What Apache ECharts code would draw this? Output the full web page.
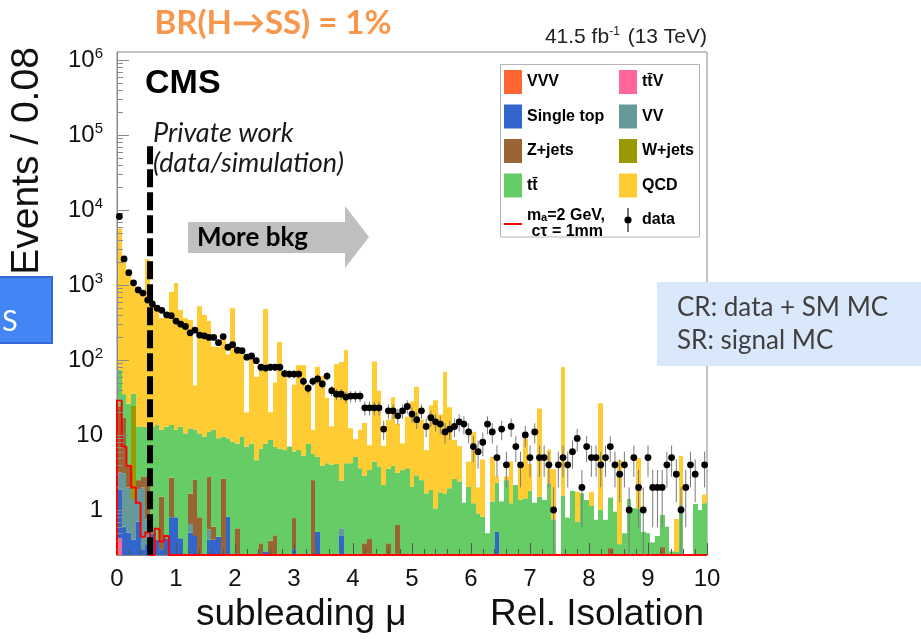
<!DOCTYPE html>
<html>
<head>
<meta charset="utf-8">
<script src="https://cdn.jsdelivr.net/npm/echarts@6/dist/echarts.min.js"></script>
<style>
  html, body { margin: 0; padding: 0; background: #fff; }
  #chart { width: 921px; height: 639px; }
</style>
</head>
<body>
<div id="chart"></div>
<script>
// Histogram binning of the subleading-muon relative isolation (0 .. 10, 0.08 per bin)
const BIN_WIDTH = 0.08;
const Y_MIN = 0.251;
const Y_MAX = 1.28e6;

const xTickLabels = ['0', '1', '2', '3', '4', '5', '6', '7', '8', '9', '10'];
const yTickExponents = [0, 1, 2, 3, 4, 5, 6];

// Simulated backgrounds, events per bin (stacked bottom to top in this order)
const ttV = [
  0.42,0,0,0,0, 0,0,0,0,0, 0,0,0,0,0, 0,0,0,0,0, 0,0,0,0,0,
  0,0,0,0,0, 0,0,0,0,0, 0,0,0,0,0, 0,0,0,0,0, 0,0,0,0,0,
  0,0,0,0,0, 0,0,0,0,0, 0,0,0,0,0, 0,0,0,0,0, 0,0,0,0,0,
  0,0,0,0,0, 0,0,0,0,0, 0,0,0,0,0, 0,0,0,0,0, 0,0,0,0,0,
  0,0,0,0,0, 0,0,0,0,0, 0,0,0,0,0, 0,0,0,0,0, 0,0,0,0,0
];
const vvv = [
  0,0,0,0,0, 0,0,0,0,0, 0,0,0,0,0, 0,0,0,0,0, 0,0,0,0,0,
  0,0,0,0,0, 0,0,0,0,0, 0,0,0,0,0, 0,0,0,0,0, 0,0,0,0,0,
  0,0,0,0,0, 0,0,0,0,0, 0,0,0,0,0, 0,0,0,0,0, 0,0,0,0,0,
  0,0,0,0,0, 0,0,0,0,0, 0,0,0,0,0, 0,0,0,0,0, 0,0,0,0,0,
  0,0,0,0,0, 0,0,0,0,0, 0,0,0,0,0, 0,0,0,0,0, 0,0,0,0,0
];
const singleTop = [
  1.45,0.6,0.5,0.4,0.7, 0.3,0.35,0.49,0.4,0.3, 0.42,0.8,0.8,0.42,0, 0.5,0.45,0,0,0.4, 0.4,0.44,0,0.81,0,
  0,0,0,0,0, 0,0.28,0,0,0, 0,0,0.3,0,0, 0,0,0.51,0,0, 0,0,0.46,0,0,
  0,0,0,0,0, 0,0,0,0,0, 0,0,0,0,0, 0,0,0,0,0, 0,0,0,0,0,
  0,0,0,0,0, 0.51,0,0,0,0, 0,0,0,0,0, 0,0,0,0,0, 0,0,0,0,0,
  0,0,0,0,0, 0,0,0,0,0, 0,0,0,0,0, 0,0,0,0,0, 0,0,0,0,0
];
const vv = [
  1.3,2.5,1.5,1.0,1.2, 1.7,0.4,0,0,0, 0,0,0,0,0, 0.15,0,0,0,0.15, 0,0,0,0,0,
  0,0,0,0,0, 0,0,0,0,0, 0,0,0,0,0, 0,0,0,0,0, 0,0,0.11,0,0,
  0,0,0,0,0, 0,0,0,0,0, 0,0,0,0,0, 0,0,0,0,0, 0,0,0,0,0,
  0,0,0,0,0, 0,0,0,0,0, 0,0,0,0,0, 0,0,0,0,0, 0,0,0,0,0,
  0,0,0,0,0, 0,0,0,0,0, 0,0,0,0,0, 0,0,0,0,0, 0,0,0,0,0
];
const zJets = [
  21,14,2,0,0.6, 0.8,2.0,0,0,1.2, 0,1.9,0,0,0, 1.0,2.1,0.8,0,2.25, 0.2,0,2.6,0,0,
  0.57,0,0,0,0, 0.36,0,0.39,0.46,0, 0,0,0.48,0,0, 0,2.5,0,0,0, 0,0,0,0,0,
  0,0,0.36,0.41,0, 0,0,0.36,0,0.63, 0,0,0,0,0, 0,0,0,0,0, 0,0,0,0,0,
  0,0,0,0,0, 0,0,0,0,0, 0,0,0,0,0, 0,0,0,0,0, 0,0,0,0,0,
  0,0,0,0,0.31, 0,0,0,0,0, 0,0,0,0,0, 0.32,0,0,0,0, 0,0,0,0,0
];
const wJets = [
  0,0,0,23,0, 0,0,0,0,0, 0,0,0,0,0, 0,0,0,0,0, 0,0,0,0,0,
  0,0,0,0,0, 0,0,0,0,0, 0,0,0,0,0, 0,0,0,0,0, 0,0,0,0,0,
  0,0,0,0,0, 0,0,0,0,0, 0,0,0,0,0, 0,0,0,0,0, 0,0,0,0,0,
  0,0,0,0,0, 0,0,0,0,0, 0,0,0,0,0, 0,0,0,0,0, 0,0,0,0,0,
  0,0,0,0,0, 0,0,0,0,0, 0,0,0,0,0, 0,0,0,0,0, 0,0,0,0,0
];
const ttbar = [
  50,18,22,11,10.5, 10,10,12.4,13.2,10.2, 12.5,10.9,10.9,12.5,10.5, 10.6,9.2,9.7,9.5,8.2, 11.1,8.6,6.9,8.2,8.1,
  7.1,9.5,7,7.7,4.6, 6.2,7.4,8.2,6.5,6.6, 6.3,7,5.2,6.3,5.3, 7.7,3.1,4.6,3.9,4.2, 4,4.1,1.9,4.2,4.2,
  5.1,3.6,2.5,3,4.4, 3.8,2.15,3.2,3.9,2.5, 3.4,3.6,2.05,2.9,2.5, 1.67,1.85,1.05,1.72,1.63, 1.95,2.6,2.4,1.25,2.05,
  1.23,0.9,0.81,0.49,1.3, 1.8,1.3,2.5,1.23,2.15, 1.36,1.43,1.8,1.25,1.5, 1.36,2.27,0.75,0,1.55, 0.79,1.8,0.7,1.67,1.36,
  1.13,0.74,1.0,0.74,1.15, 0.95,0.35,0.49,1.4,1.06, 1.04,0.51,0.49,0.37,0.45, 0.54,0.6,0.28,0.28,1.17, 0,0,1.2,1.0,1.23
];
const qcd = [
  5600,1960,1470,965,890, 690,2190,510,450,350, 410,800,1050,450,350, 330,34,510,390,320, 140,140,190,110,480,
  125,110,13,95,55, 73,470,11.5,43,168, 62,0,41,79,80, 32,6.1,76,57,27, 9,84,92,131,8.1,
  3.7,8.1,11.6,3.9,91, 35,5,12.4,28,11, 4.3,14,26,41,13.5, 4.6,23,28,17,68, 21.5,6,4.7,0,2.35,
  9.8,1.1,3.9,0,3.8, 0.5,0,0.3,3.2,0, 2.4,7.4,2.3,0,21, 0,4.1,2.75,0,79, 0,0,1.05,0,0,
  0.6,0,25.5,0,0, 0,4.25,0,0,0, 3.86,0,0,0,0, 0,0,0,0.48,4.1, 0,0,0,0,0.37
];

// Signal hypothesis (m_a = 2 GeV, c tau = 1 mm), drawn as an outline
const signal = [
  29,7,3.9,2,1.25, 0.44,0.5,0,0.56,0.38, 0.45,0,0,0,0, 0,0,0,0,0, 0,0,0,0,0,
  0,0,0,0,0, 0,0,0,0,0, 0,0,0,0,0, 0,0,0,0,0, 0,0,0,0,0,
  0,0,0,0,0, 0,0,0,0,0, 0,0,0,0,0, 0,0,0,0,0, 0,0,0,0,0,
  0,0,0,0,0, 0,0,0,0,0, 0,0,0,0,0, 0,0,0,0,0, 0,0,0,0,0,
  0,0,0,0,0, 0,0,0,0,0, 0,0,0,0,0, 0,0,0,0,0, 0,0,0,0,0
];

// Observed events per bin
const dataCounts = [
  8200,2230,1460,1070,860, 780,630,560,490,460, 400,390,330,300,280, 230,250,215,210,200, 200,170,205,148,160,
  135,133,109,113,98, 80,78,80,80,80, 66,65,65,65,52, 42,52,56,48,61, 39,35,35,32,33,
  33,33,23,23,23, 23,12,21,21,18, 21,24,19,16,21, 13,17,15,14,11, 12,13,15,14,11,
  7,6,8,14,11, 5,12,4,13,7, 4,10,5,11,5, 5,4,1,4,5, 4,6,9,2,7,
  5,5,4,5,7, 4,3,4,1,5, 2,1,5,2,2, 2,4,5,3,1, 2,4,3,0,4
];

// Isolation cut shown as a dashed vertical line
const CUT_VALUE = 0.56;
const CUT_TOP = 7.1e4;

const SIGNAL_NAME = 'signal';
const TTBAR = 't\u0074\u0304';
const TTV = 't\u0074\u0304V';

const layers = [
  { name: TTV, color: '#FF6699', values: ttV },
  { name: 'VVV', color: '#FF6633', values: vvv },
  { name: 'Single top', color: '#3366CC', values: singleTop },
  { name: 'VV', color: '#669999', values: vv },
  { name: 'Z+jets', color: '#996633', values: zJets },
  { name: 'W+jets', color: '#999900', values: wJets },
  { name: TTBAR, color: '#66CC66', values: ttbar },
  { name: 'QCD', color: '#FFCC33', values: qcd }
];

function renderStackBar(params, api) {
  const lo = Math.max(api.value(2), Y_MIN);
  const hi = Math.min(api.value(3), Y_MAX);
  if (!(hi > lo)) return null;
  const a = api.coord([api.value(0), lo]);
  const b = api.coord([api.value(1), hi]);
  const x0 = Math.round(a[0]);
  const x1 = Math.round(b[0]);
  return {
    type: 'rect',
    shape: { x: x0, y: b[1], width: x1 - x0, height: a[1] - b[1] },
    style: { fill: api.visual('color') }
  };
}

const cumulative = new Array(dataCounts.length).fill(0);
const stackSeries = layers.map(layer => {
  const items = layer.values.map((v, i) => {
    const lo = cumulative[i];
    cumulative[i] += v;
    return [i * BIN_WIDTH, (i + 1) * BIN_WIDTH, lo, cumulative[i]];
  });
  return {
    type: 'custom',
    name: layer.name,
    renderItem: renderStackBar,
    data: items,
    encode: { x: 0, y: 3 },
    itemStyle: { color: layer.color },
    silent: true,
    z: 2
  };
});

function clampY(v) { return Math.min(Math.max(v, Y_MIN), Y_MAX); }

const signalSeries = {
  type: 'custom',
  name: SIGNAL_NAME,
  data: signal.map((v, i) => [i * BIN_WIDTH, (i + 1) * BIN_WIDTH, v, i > 0 ? signal[i - 1] : 0]),
  encode: { x: 0, y: 2 },
  itemStyle: { color: '#FF0000' },
  silent: true,
  z: 11,
  renderItem(params, api) {
    const p0 = api.coord([api.value(0), clampY(api.value(3))]);
    const p1 = api.coord([api.value(0), clampY(api.value(2))]);
    const p2 = api.coord([api.value(1), clampY(api.value(2))]);
    return {
      type: 'polyline',
      shape: { points: [p0, p1, p2] },
      style: { stroke: '#FF0000', lineWidth: 2, fill: null }
    };
  }
};

const cutSeries = {
  type: 'custom',
  name: 'cut',
  data: [[CUT_VALUE, CUT_TOP]],
  encode: { x: 0, y: 1 },
  silent: true,
  z: 11,
  renderItem(params, api) {
    const top = api.coord([api.value(0), api.value(1)]);
    const bottom = api.coord([api.value(0), Y_MIN]);
    return {
      type: 'line',
      shape: { x1: top[0], y1: top[1], x2: bottom[0], y2: bottom[1] },
      style: { stroke: '#000', lineWidth: 6, lineDash: [18, 5] }
    };
  }
};

const dataSeries = {
  type: 'custom',
  name: 'data',
  data: dataCounts.map((n, i) => [(i + 0.5) * BIN_WIDTH, n, n - Math.sqrt(n), n + Math.sqrt(n)]),
  encode: { x: 0, y: 1 },
  itemStyle: { color: '#000' },
  silent: true,
  z: 12,
  renderItem(params, api) {
    const n = api.value(1);
    if (!(n > 0)) return null;
    const c = api.coord([api.value(0), n]);
    const up = api.coord([api.value(0), clampY(api.value(3))]);
    const dn = api.coord([api.value(0), clampY(api.value(2))]);
    return {
      type: 'group',
      children: [
        { type: 'line', shape: { x1: c[0], y1: up[1], x2: c[0], y2: dn[1] },
          style: { stroke: '#7a7a7a', lineWidth: 1 } },
        { type: 'circle', shape: { cx: c[0], cy: c[1], r: 3.4 }, style: { fill: '#000' } }
      ]
    };
  }
};

// Log-axis ticks: decades long, 2..9 sub-decades short
const yTicks = [];
for (let e = -1; e <= 6; e++) {
  for (let m = 1; m <= 9; m++) {
    const v = m * Math.pow(10, e);
    if (v >= Y_MIN && v <= Y_MAX) yTicks.push([0, v, m === 1 ? 1 : 0]);
  }
}
const yTickSeries = {
  type: 'custom',
  name: 'yticks',
  data: yTicks,
  encode: { x: 0, y: 1 },
  silent: true,
  z: 11,
  renderItem(params, api) {
    const p = api.coord([api.value(0), api.value(1)]);
    const len = api.value(2) ? 12 : 6;
    const y = Math.round(p[1]) + 0.5;
    return {
      type: 'line',
      shape: { x1: p[0], y1: y, x2: p[0] + len, y2: y },
      style: { stroke: '#8a8a8a', lineWidth: 1 }
    };
  }
};

const legendText = {
  fontFamily: 'Liberation Sans',
  fontWeight: 'bold',
  fontSize: 16,
  color: '#000',
  lineHeight: 16
};
const DATA_ICON = 'path://M3,0h1v22h-1z M0.2,11a3.3,3.3 0 1,1 6.6,0a3.3,3.3 0 1,1 -6.6,0z';
const LINE_ICON = 'path://M0,0H18V2H0Z';

const legendCommon = {
  orient: 'vertical',
  top: 70,
  itemWidth: 18,
  itemHeight: 24,
  itemGap: 10.5,
  padding: 0,
  selectedMode: false,
  symbolKeepAspect: true,
  textStyle: legendText,
  z: 20,
  formatter: name => (name === SIGNAL_NAME ? 'm\u2090=2 GeV,\n cτ = 1mm' : name)
};

const sans = '"Liberation Sans", Arial, sans-serif';

const option = {
  animation: false,
  backgroundColor: '#fff',
  grid: {
    left: 117, right: 214, top: 52, bottom: 84,
    show: true, borderColor: '#888', borderWidth: 1, backgroundColor: 'transparent',
    containLabel: false, outerBoundsMode: 'none'
  },
  xAxis: {
    type: 'value', min: 0, max: 10, interval: 1, z: 10,
    axisLine: { show: true, lineStyle: { color: '#888', width: 1 } },
    axisTick: { show: true, inside: true, length: 12, lineStyle: { color: '#555' } },
    minorTick: { show: true, splitNumber: 5, length: 6, lineStyle: { color: '#555' } },
    splitLine: { show: false },
    minorSplitLine: { show: false },
    axisLabel: {
      margin: 12, fontSize: 24, fontFamily: 'Liberation Sans', color: '#111',
      formatter: v => xTickLabels[Math.round(v)] || ''
    }
  },
  yAxis: {
    type: 'log', logBase: 10, min: Y_MIN, max: Y_MAX, splitNumber: 7, z: 10,
    axisLine: { show: true, lineStyle: { color: '#888', width: 1 } },
    axisTick: { show: false },
    splitLine: { show: false },
    axisLabel: {
      margin: 14,
      formatter: v => {
        const l = Math.log10(v);
        const e = Math.round(l);
        if (Math.abs(l - e) > 1e-6 || yTickExponents.indexOf(e) < 0) return '';
        if (e === 0) return '{b|1}';
        if (e === 1) return '{b|10}';
        return '{b|10}{s|' + e + '}';
      },
      rich: {
        b: { fontSize: 24, fontFamily: 'Liberation Sans', color: '#111' },
        s: { fontSize: 15, fontFamily: 'Liberation Sans', color: '#111', padding: [0, 0, 13, 0] }
      }
    }
  },
  legend: [
    Object.assign({}, legendCommon, {
      left: 504,
      data: [
        { name: 'VVV', icon: 'rect' },
        { name: 'Single top', icon: 'rect' },
        { name: 'Z+jets', icon: 'rect' },
        { name: TTBAR, icon: 'rect' },
        { name: SIGNAL_NAME, icon: LINE_ICON }
      ]
    }),
    Object.assign({}, legendCommon, {
      left: 619,
      data: [
        { name: TTV, icon: 'rect' },
        { name: 'VV', icon: 'rect' },
        { name: 'W+jets', icon: 'rect' },
        { name: 'QCD', icon: 'rect' },
        { name: 'data', icon: DATA_ICON }
      ]
    })
  ],
  graphic: [
    // legend frame
    { type: 'rect', z: 15, shape: { x: 500.5, y: 64.5, width: 199, height: 172.5 },
      style: { fill: '#fff', stroke: '#b5b5b5', lineWidth: 1 } },
    // axis titles
    { type: 'text', z: 30, x: 27, y: 161, rotation: Math.PI / 2,
      style: { text: 'Events / 0.08', font: '39px ' + sans, fill: '#111',
        align: 'center', verticalAlign: 'middle', textAlign: 'center', textVerticalAlign: 'middle' } },
    { type: 'text', z: 30,
      style: { x: 196, y: 615, text: 'subleading μ', font: '37px ' + sans, fill: '#111',
        align: 'left', verticalAlign: 'middle', textAlign: 'left', textVerticalAlign: 'middle' } },
    { type: 'text', z: 30,
      style: { x: 704, y: 615, text: 'Rel. Isolation', font: '37px ' + sans, fill: '#111',
        align: 'right', verticalAlign: 'middle', textAlign: 'right', textVerticalAlign: 'middle' } },
    // CMS labels
    { type: 'text', z: 30,
      style: { x: 145, y: 84, text: 'CMS', font: 'bold 34px ' + sans, fill: '#000',
        align: 'left', verticalAlign: 'middle', textAlign: 'left', textVerticalAlign: 'middle' } },
    { type: 'text', z: 30,
      style: { x: 707, y: 37, text: '{a|41.5 fb}{s|-1}{a| (13 TeV)}', align: 'right', verticalAlign: 'middle',
        textAlign: 'right', textVerticalAlign: 'middle',
        rich: {
          a: { fontSize: 21, fontFamily: 'Liberation Sans', fill: '#222' },
          s: { fontSize: 12, fontFamily: 'Liberation Sans', fill: '#222', padding: [0, 2, 10, 0] }
        } } },
    { type: 'text', z: 30,
      style: { x: 153, y: 133, text: 'Private work', font: 'italic 27px Lato', fill: '#1a1a1a',
        align: 'left', verticalAlign: 'middle', textAlign: 'left', textVerticalAlign: 'middle' } },
    { type: 'text', z: 30,
      style: { x: 153, y: 163, text: '(data/simulation)', font: 'italic 27px Lato', fill: '#1a1a1a',
        align: 'left', verticalAlign: 'middle', textAlign: 'left', textVerticalAlign: 'middle' } },
    // branching ratio note
    { type: 'text', z: 30,
      style: { x: 273, y: 23, text: 'BR(H→SS) = 1%', font: 'bold 33px Lato', fill: '#F8964C',
        align: 'center', verticalAlign: 'middle', textAlign: 'center', textVerticalAlign: 'middle' } },
    // background direction arrow
    { type: 'polygon', z: 30,
      shape: { points: [[188, 222], [345, 222], [345, 206], [369, 237], [345, 268], [345, 253], [188, 253]] },
      style: { fill: '#BFBFBF' } },
    { type: 'text', z: 31,
      style: { x: 197, y: 238, text: 'More bkg', font: 'bold 26px Lato', fill: '#000',
        align: 'left', verticalAlign: 'middle', textAlign: 'left', textVerticalAlign: 'middle' } },
    // side boxes
    { type: 'rect', z: 30, shape: { x: -3, y: 277, width: 55, height: 66 },
      style: { fill: '#4285F4', stroke: '#3367D6', lineWidth: 2 } },
    { type: 'text', z: 31,
      style: { x: 2, y: 322, text: 'S', font: '29px Lato', fill: '#fff',
        align: 'left', verticalAlign: 'middle', textAlign: 'left', textVerticalAlign: 'middle' } },
    { type: 'rect', z: 30, shape: { x: 657, y: 282, width: 264, height: 84 },
      style: { fill: '#DAE8FC' } },
    { type: 'text', z: 31,
      style: { x: 677, y: 308, text: 'CR: data + SM MC', font: '26px Lato', fill: '#404040',
        align: 'left', verticalAlign: 'middle', textAlign: 'left', textVerticalAlign: 'middle' } },
    { type: 'text', z: 31,
      style: { x: 677, y: 341, text: 'SR: signal MC', font: '26px Lato', fill: '#404040',
        align: 'left', verticalAlign: 'middle', textAlign: 'left', textVerticalAlign: 'middle' } }
  ],
  series: stackSeries.concat([signalSeries, cutSeries, dataSeries, yTickSeries])
};

const chart = echarts.init(document.getElementById('chart'), null, { renderer: 'canvas' });
chart.setOption(option);
</script>
</body>
</html>
